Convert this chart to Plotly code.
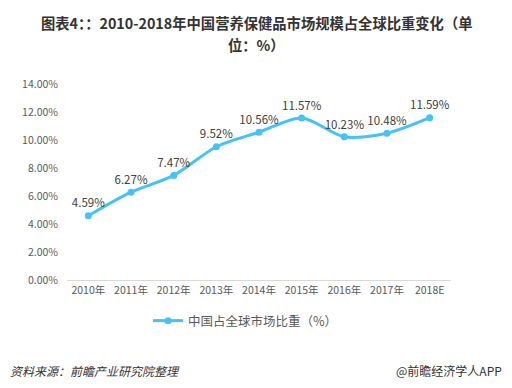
import plotly.graph_objects as go

categories = ["2010年", "2011年", "2012年", "2013年", "2014年", "2015年", "2016年", "2017年", "2018E"]
values = [4.59, 6.27, 7.47, 9.52, 10.56, 11.57, 10.23, 10.48, 11.59]
y_ticks = [0, 2, 4, 6, 8, 10, 12, 14]
series_name = "中国占全球市场比重（%）"
title_line1 = "图表4：：2010-2018年中国营养保健品市场规模占全球比重变化（单"
title_line2 = "位：%）"

font_cjk = "Noto Sans CJK SC, Noto Sans, sans-serif"

L, R, T, B = 67, 61, 84, 108
W, H = 512, 388
PW, PH = W - L - R, H - T - B


def px_x(x):
    return (x - L) / PW


def px_y(y):
    return (H - B - y) / PH


fig = go.Figure()
fig.add_trace(go.Scatter(
    x=categories, y=values, name=series_name,
    mode="lines+markers+text",
    line=dict(color="#45c3f8", width=3, shape="spline", smoothing=0.8),
    marker=dict(color="#45c3f8", size=7),
    text=[f"{v:.2f}%" for v in values],
    textposition="top center",
    textfont=dict(size=11.5, color="#404040", family=font_cjk),
    cliponaxis=False,
))

fig.update_layout(
    width=W, height=H,
    margin=dict(l=L, r=R, t=T, b=B, autoexpand=False),
    paper_bgcolor="white", plot_bgcolor="white",
    font=dict(family=font_cjk, color="#595959"),
    xaxis=dict(type="category", range=[-0.5, 8.5], showgrid=False,
               showline=True, linecolor="#d9d9d9", linewidth=1,
               ticks="", tickfont=dict(size=10.5, color="#595959"),
               fixedrange=True),
    yaxis=dict(range=[0, 14], tickvals=y_ticks,
               ticktext=[f"{v:.2f}%" for v in y_ticks],
               showgrid=False, zeroline=False, showline=False,
               tickfont=dict(size=10.5, color="#595959"), ticklabelstandoff=8,
               fixedrange=True),
    showlegend=True,
    legend=dict(orientation="h", x=px_x(148), xanchor="left", y=px_y(321), yanchor="middle",
                itemwidth=30, font=dict(size=12.5, color="#595959")),
)

for txt, yy in [(title_line1, 22), (title_line2, 44)]:
    fig.add_annotation(text=f"<b>{txt}</b>", xref="paper", yref="paper",
                       x=px_x(256), xanchor="center", y=px_y(yy), yanchor="middle",
                       showarrow=False, font=dict(size=14.3, color="#333333", family=font_cjk))

fig.add_annotation(text="<i>资料来源：前瞻产业研究院整理</i>", xref="paper", yref="paper",
                   x=px_x(8), xanchor="left", y=px_y(370), yanchor="middle", showarrow=False,
                   font=dict(size=12, color="#333333"))
fig.add_annotation(text="@前瞻经济学人APP", xref="paper", yref="paper",
                   x=px_x(504), xanchor="right", y=px_y(370), yanchor="middle", showarrow=False,
                   font=dict(size=12, color="#333333"))

fig.write_html("out.html", config={"displayModeBar": False},
               post_script="document.body.style.margin='0';")
